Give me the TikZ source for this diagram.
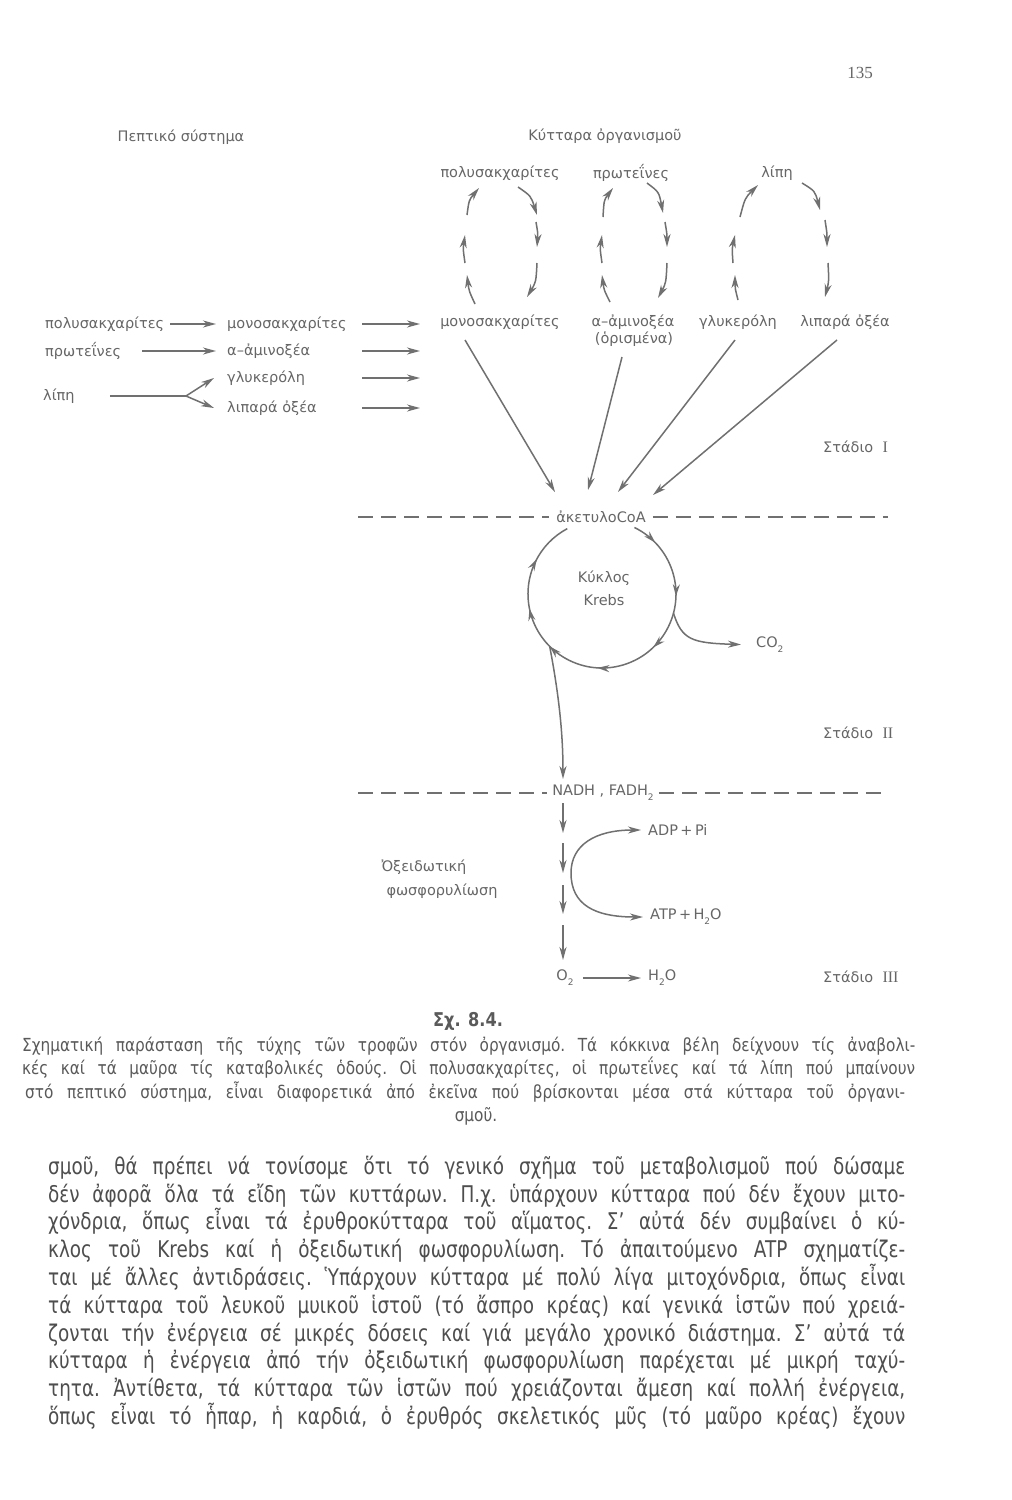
\documentclass[tikz,border=0pt]{standalone}
\usepackage{fontspec}
\usepackage{graphicx}
\usetikzlibrary{arrows.meta,decorations.markings,calc}
\newfontfamily\dfont{DejaVu Sans}
\newfontfamily\serfnt{Liberation Serif}
\definecolor{labgray}{HTML}{666666}
\definecolor{lingray}{HTML}{707070}
\definecolor{bodygray}{HTML}{4E4E4E}
\definecolor{capgray}{HTML}{5A5A5A}
\newcommand\lowtwo{\raisebox{-0.35em}{\fontsize{9}{9}\selectfont 2}}
% #1 horizontal scale, #2 unscaled width, #3 text
\newcommand\jline[3]{\scalebox{#1}[1]{\makebox[#2][s]{\frenchspacing #3}}}
\tikzset{
  lbl/.style={font=\dfont\fontsize{14.5}{16}\selectfont, text=labgray, inner sep=1pt},
  stg/.style={lbl, anchor=west},
  arr/.style={draw=lingray, line width=1.5pt, -{Stealth[length=13pt,width=7pt,inset=4pt]}},
  ln/.style={draw=lingray, line width=1.5pt},
  dsh/.style={ln, dash pattern=on 15pt off 8pt},
  captxt/.style={font=\dfont\fontsize{18}{22}\selectfont, text=capgray, inner sep=0pt, anchor=base west},
  bodytxt/.style={font=\dfont\fontsize{23}{28}\selectfont, text=bodygray, inner sep=0pt, anchor=base west},
}
\newcommand\seg[3]{\draw[arr] #1 .. controls #2 .. #3;}
\begin{document}
\begin{tikzpicture}[x=1pt,y=-1pt]
\useasboundingbox (0,0) rectangle (1012,1500);
\fill[white] (0,0) rectangle (1012,1500);

% page number
\node[font=\serfnt\fontsize{17}{17}\selectfont, text=labgray] (pg) at (860,73) {135};

% headings
\node[lbl] (pep) at (181,137) {Πεπτικό σύστημα};
\node[lbl] (kyt) at (605,136) {Κύτταρα ὀργανισμοῦ};

% cell compounds
\node[lbl] (tpoly) at (500,173) {πολυσακχαρίτες};
\node[lbl] (tprot) at (631,173) {πρωτεΐνες};
\node[lbl] (tlip) at (777,173) {λίπη};
\node[lbl] (cmono) at (500,322) {μονοσακχαρίτες};
\node[lbl] (camino) at (633,322) {α–ἀμινοξέα};
\node[lbl] (corism) at (634,339) {(ὁρισμένα)};
\node[lbl] (cglyc) at (738,322) {γλυκερόλη};
\node[lbl] (cfat) at (845,322) {λιπαρά ὀξέα};

% loops
\seg{(475,304)}{(469,291)}{(467,275)}
\seg{(465,263)}{(463,249)}{(465,235)}
\seg{(467,215)}{(469,200)}{(479,188)}
\seg{(518,187)}{(531,196)}{(537,215)}
\seg{(536,222)}{(538,234)}{(537,247)}
\seg{(537,263)}{(536,282)}{(527,297)}

\seg{(610,302)}{(604,290)}{(602,275)}
\seg{(602,263)}{(600,249)}{(602,235)}
\seg{(603,217)}{(604,200)}{(613,188)}
\seg{(647,183)}{(659,192)}{(663,213)}
\seg{(665,222)}{(667,234)}{(667,247)}
\seg{(667,263)}{(666,283)}{(658,298)}

\seg{(738,300)}{(735,288)}{(735,275)}
\seg{(733,263)}{(732,249)}{(735,235)}
\seg{(740,217)}{(745,198)}{(758,185)}
\seg{(802,183)}{(815,191)}{(820,210)}
\seg{(825,220)}{(827,233)}{(827,247)}
\seg{(828,263)}{(829,281)}{(825,297)}

% digestive system
\node[lbl,anchor=west] (lpoly) at (44,324) {πολυσακχαρίτες};
\node[lbl,anchor=west] (lprot) at (44,351) {πρωτεΐνες};
\node[lbl,anchor=west] (llip) at (42,396) {λίπη};
\node[lbl,anchor=west] (lmono) at (226,324) {μονοσακχαρίτες};
\node[lbl,anchor=west] (lamino) at (226,351) {α–ἀμινοξέα};
\node[lbl,anchor=west] (lglyc) at (226,378) {γλυκερόλη};
\node[lbl,anchor=west] (lfat) at (226,408) {λιπαρά ὀξέα};

\draw[arr, shorten <=5pt, shorten >=10pt] (lpoly.east) -- (lpoly.east -| lmono.west);
\draw[arr, shorten <=20pt, shorten >=10pt] (lprot.east) -- (lprot.east -| lamino.west);
\coordinate (fork) at (186,396);
\draw[ln, shorten <=34pt] (llip.east) -- (fork);
\draw[arr] (fork) -- ([xshift=-12pt]lglyc.west);
\draw[arr] (fork) -- ([xshift=-12pt]lfat.west);
\coordinate (rs) at (362,0);
\coordinate (re) at (420,0);
\foreach \n in {lmono,lamino,lglyc,lfat} \draw[arr] (\n.west -| rs) -- (\n.west -| re);

% acetyl-CoA
\node[lbl] (acoa) at (601,517) {ἀκετυλοCoA};
\coordinate (a1) at (465,340); \coordinate (a1e) at (555,492);
\coordinate (a2) at (622,357); \coordinate (a2e) at (588,490);
\coordinate (a3) at (735,340); \coordinate (a3e) at (618,492);
\coordinate (a4) at (837,340); \coordinate (a4e) at (653,495);
\draw[arr] (a1) -- (a1e);
\draw[arr] (a2) -- (a2e);
\draw[arr] (a3) -- (a3e);
\draw[arr] (a4) -- (a4e);
\draw[dsh] (358,517) -- ([xshift=-6pt]acoa.west);
\draw[dsh] ([xshift=6pt]acoa.east) -- (888,517);
\node[stg] (st1) at (822,447) {Στάδιο\ \ {\serfnt\fontsize{16}{16}\selectfont I}};

% Krebs cycle
\coordinate (kc) at (602,594);
\draw[ln, postaction=decorate, decoration={markings,
  mark=at position 0.065 with {\arrow{Stealth[length=12pt,width=7pt,inset=4pt]}},
  mark=at position 0.215 with {\arrow{Stealth[length=12pt,width=7pt,inset=4pt]}},
  mark=at position 0.36 with {\arrow{Stealth[length=12pt,width=7pt,inset=4pt]}},
  mark=at position 0.515 with {\arrow{Stealth[length=12pt,width=7pt,inset=4pt]}},
  mark=at position 0.65 with {\arrow{Stealth[length=12pt,width=7pt,inset=4pt]}},
  mark=at position 0.76 with {\arrow{Stealth[length=12pt,width=7pt,inset=4pt]}},
  mark=at position 0.89 with {\arrow{Stealth[length=12pt,width=7pt,inset=4pt]}}}]
  ($(kc)+(296:74)$) arc[start angle=296, end angle=602, radius=74];
\node[lbl] (kyk) at (604,578) {Κύκλος};
\node[lbl] (krebs) at (604,600) {Krebs};
\node[lbl,anchor=west] (co2) at (755,645) {CO\lowtwo};
\draw[arr, shorten >=14pt] ($(kc)+(15:74)$) .. controls (682,640) and (692,643) .. (co2.west);
\node[stg] (st2) at (822,733) {Στάδιο\ \ {\serfnt\fontsize{16}{16}\selectfont II}};

% NADH
\node[lbl] (nadh) at (603,793) {NADH , FADH\lowtwo};
\draw[dsh] (358,793) -- ([xshift=-4pt]nadh.west);
\draw[dsh] ([xshift=4pt]nadh.east) -- (888,793);
\coordinate (ntop) at (563,779);
\draw[arr] ($(kc)+(135:74)$) .. controls (558,690) and (563,730) .. (ntop);

% oxidative phosphorylation
\foreach \a/\b in {803/833, 843/873, 885/914, 925/960} \draw[arr] (563,\a) -- (563,\b);
\node[lbl,anchor=west] (adp) at (647,830) {ADP\,+\,Pi};
\node[lbl,anchor=west] (atp) at (649,917) {ATP\,+\,H\lowtwo O};
\coordinate (cm) at (571,873);
\draw[arr] (cm) .. controls (571,845) and (595,830) .. ([xshift=-6pt]adp.west);
\draw[arr] (cm) .. controls (571,905) and (595,917) .. ([xshift=-6pt]atp.west);
\node[lbl] (ox1) at (424,867) {Ὀξειδωτική};
\node[lbl] (ox2) at (442,891) {φωσφορυλίωση};
\node[lbl] (o2) at (565,978) {O\lowtwo};
\node[lbl,anchor=west] (h2o) at (647,978) {H\lowtwo O};
\draw[arr, shorten <=8pt, shorten >=6pt] (o2.east) -- (o2.east -| h2o.west);
\node[stg] (st3) at (822,977) {Στάδιο\ \ {\serfnt\fontsize{16}{16}\selectfont III}};

% caption
\node[font=\dfont\bfseries\fontsize{19}{21}\selectfont, text=capgray] (cap) at (468,1021) {\scalebox{0.85}[1]{Σχ. 8.4.}};
\node[captxt] (c1) at (22,1051) {\jline{0.85}{1050.6pt}{Σχηματική παράσταση τῆς τύχης τῶν τροφῶν στόν ὀργανισμό. Τά κόκκινα βέλη δείχνουν τίς ἀναβολι-}};
\node[captxt] (c2) at (22,1074) {\jline{0.85}{1050.6pt}{κές καί τά μαῦρα τίς καταβολικές ὁδούς. Οἱ πολυσακχαρίτες, οἱ πρωτεΐνες καί τά λίπη πού μπαίνουν}};
\node[captxt] (c3) at (25,1098) {\jline{0.85}{1035.3pt}{στό πεπτικό σύστημα, εἶναι διαφορετικά ἀπό ἐκεῖνα πού βρίσκονται μέσα στά κύτταρα τοῦ ὀργανι-}};
\node[captxt, anchor=base] (c4) at (476,1121) {\scalebox{0.85}[1]{σμοῦ.}};

% body text
\node[bodytxt] (b1) at (48,1174) {\jline{0.8}{1071.25pt}{σμοῦ, θά πρέπει νά τονίσομε ὅτι τό γενικό σχῆμα τοῦ μεταβολισμοῦ πού δώσαμε}};
\node[bodytxt] (b2) at (48,1202) {\jline{0.8}{1071.25pt}{δέν ἀφορᾶ ὅλα τά εἴδη τῶν κυττάρων. Π.χ. ὑπάρχουν κύτταρα πού δέν ἔχουν μιτο-}};
\node[bodytxt] (b3) at (48,1229) {\jline{0.8}{1071.25pt}{χόνδρια, ὅπως εἶναι τά ἐρυθροκύτταρα τοῦ αἵματος. Σ’ αὐτά δέν συμβαίνει ὁ κύ-}};
\node[bodytxt] (b4) at (48,1257) {\jline{0.8}{1071.25pt}{κλος τοῦ Krebs καί ἡ ὀξειδωτική φωσφορυλίωση. Τό ἀπαιτούμενο ATP σχηματίζε-}};
\node[bodytxt] (b5) at (48,1285) {\jline{0.8}{1071.25pt}{ται μέ ἄλλες ἀντιδράσεις. Ὑπάρχουν κύτταρα μέ πολύ λίγα μιτοχόνδρια, ὅπως εἶναι}};
\node[bodytxt] (b6) at (48,1313) {\jline{0.8}{1071.25pt}{τά κύτταρα τοῦ λευκοῦ μυικοῦ ἱστοῦ (τό ἄσπρο κρέας) καί γενικά ἱστῶν πού χρειά-}};
\node[bodytxt] (b7) at (48,1341) {\jline{0.8}{1071.25pt}{ζονται τήν ἐνέργεια σέ μικρές δόσεις καί γιά μεγάλο χρονικό διάστημα. Σ’ αὐτά τά}};
\node[bodytxt] (b8) at (48,1368) {\jline{0.8}{1071.25pt}{κύτταρα ἡ ἐνέργεια ἀπό τήν ὀξειδωτική φωσφορυλίωση παρέχεται μέ μικρή ταχύ-}};
\node[bodytxt] (b9) at (48,1396) {\jline{0.8}{1071.25pt}{τητα. Ἀντίθετα, τά κύτταρα τῶν ἱστῶν πού χρειάζονται ἄμεση καί πολλή ἐνέργεια,}};
\node[bodytxt] (b10) at (48,1424) {\jline{0.8}{1071.25pt}{ὅπως εἶναι τό ἧπαρ, ἡ καρδιά, ὁ ἐρυθρός σκελετικός μῦς (τό μαῦρο κρέας) ἔχουν}};
\end{tikzpicture}
\end{document}
